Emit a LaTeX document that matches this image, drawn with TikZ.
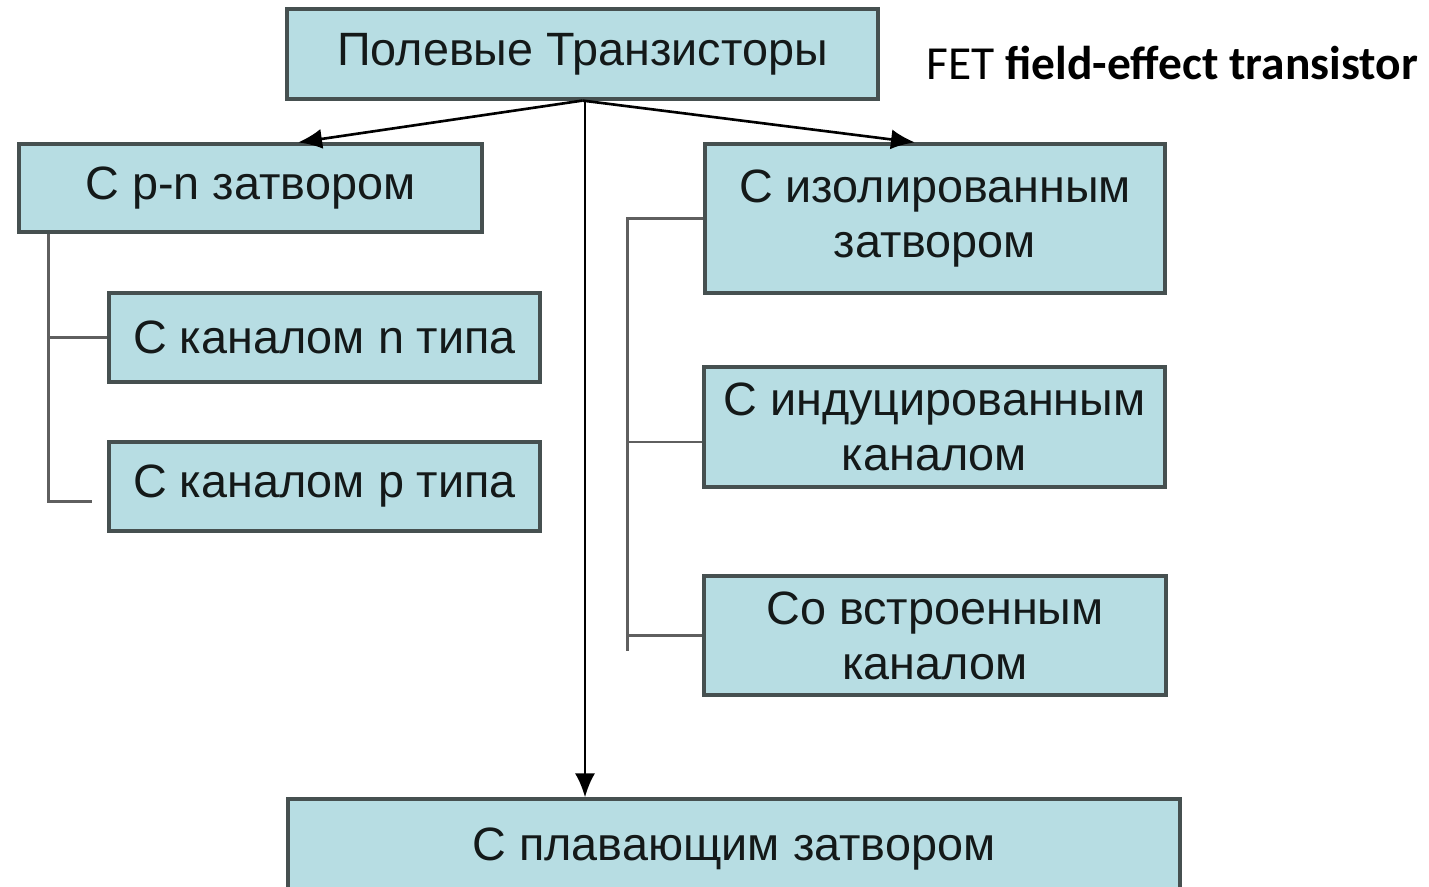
\documentclass[tikz,border=0pt]{standalone}
\usepackage{fontspec}
\setmainfont{Liberation Sans}
\newfontfamily\fetfont{Carlito}
\usetikzlibrary{arrows.meta}
\definecolor{boxfill}{RGB}{183, 221, 227}
\definecolor{boxline}{RGB}{70, 80, 80}
\definecolor{treeline}{RGB}{95, 95, 95}
\definecolor{inktext}{RGB}{20, 25, 25}
\tikzset{
    kind/.style={draw=boxline, fill=boxfill, line width=0.9pt, inner sep=0pt, align=center,
                 text=inktext, font=\fontsize{13.3}{15.6}\selectfont},
    branch/.style={-{Latex[length=2.4mm, width=2mm]}, black, line width=0.75pt},
    tree/.style={treeline, line width=0.65pt}
}

\begin{document}
\begin{tikzpicture}
            \clip (0, 0) rectangle (14.29, -8.86);
            \fill[white] (0, 0) rectangle (14.29, -8.86);
            \node[kind, minimum width=5.91cm, minimum height=0.90cm] (fet) at ( 5.825, -0.540) {Полевые Транзисторы};
            \node[anchor=west, inner sep=0pt, font=\fetfont\fontsize{13.5}{16}\selectfont] (eng) at ( 9.26, -0.63) {FET \textbf{field-effect transistor}};
            \node[kind, minimum width=4.63cm, minimum height=0.88cm] (pn)  at ( 2.505, -1.880) {С p-n затвором};
            \node[kind, minimum width=4.31cm, minimum height=0.89cm] (nch) at ( 3.245, -3.375) {С каналом n типа};
            \node[kind, minimum width=4.31cm, minimum height=0.89cm] (pch) at ( 3.245, -4.865) {С каналом p типа};
            \node[kind, minimum width=4.60cm, minimum height=1.49cm] (iso) at ( 9.350, -2.185) {С изолированным\\затвором};
            \node[kind, minimum width=4.61cm, minimum height=1.20cm] (ind) at ( 9.345, -4.270) {С индуцированным\\каналом};
            \node[kind, minimum width=4.62cm, minimum height=1.19cm] (emb) at ( 9.350, -6.355) {Со встроенным\\каналом};
            \node[kind, minimum width=8.92cm, minimum height=1.00cm] (flt) at ( 7.340, -8.490) {С плавающим затвором};

            \draw[branch] (fet.south) -- ([xshift=4.75mm]pn.north);
            \draw[branch] (fet.south) -- ([xshift=-2mm]iso.north);
            \draw[branch] ([xshift=0.25mm]fet.south) -- ([xshift=0.25mm]fet.south |- flt.north);

            \draw[tree] ([xshift=3.1mm]pn.south west) coordinate (lbar) |- ([shift={(-1.5mm,-1.5mm)}]pch.west);
            \draw[tree] (nch.west) -- (nch.west -| lbar);

            \draw[tree] (iso.west) -- ++(-0.76, 0) coordinate (rbar) -- ++(0, -4.32);
            \draw[tree] ([yshift=-1.5mm]ind.west) -- ([yshift=-1.5mm]ind.west -| rbar);
            \draw[tree] (emb.west) -- (emb.west -| rbar);
        \end{tikzpicture}
\end{document}
